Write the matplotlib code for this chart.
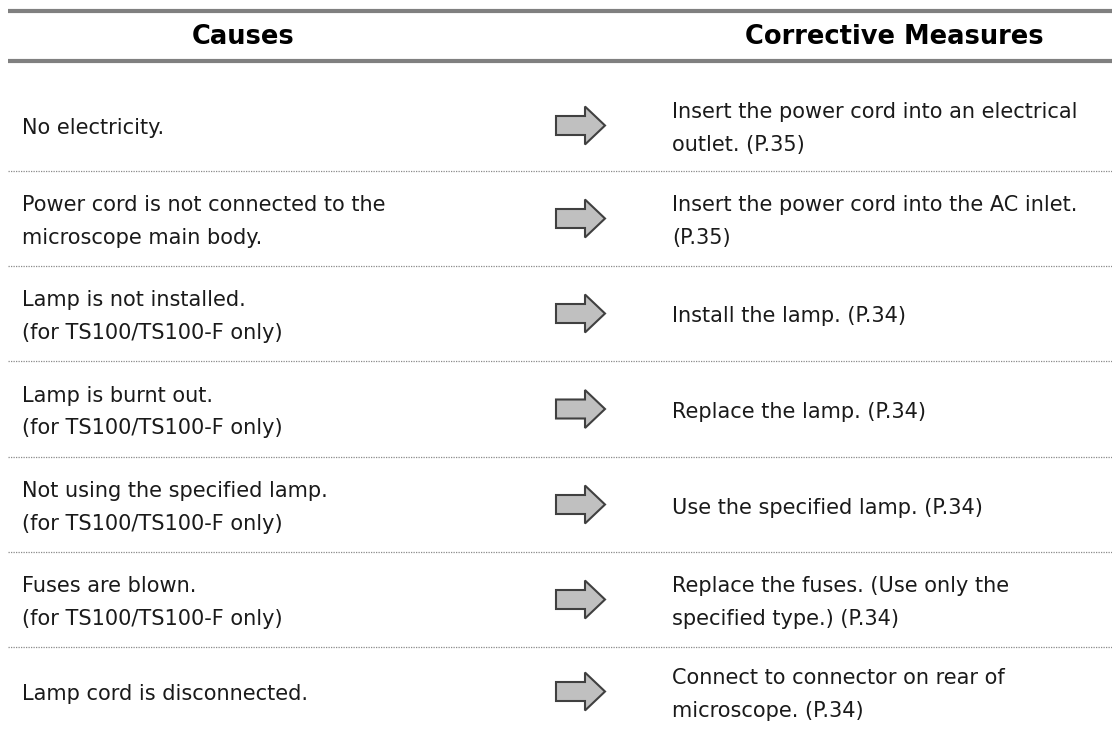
import matplotlib
matplotlib.use('Agg')
import matplotlib.pyplot as plt
from matplotlib.patches import FancyArrow

# table content
headers = ['Causes', 'Corrective Measures']
causes = [
    'No electricity.',
    'Power cord is not connected to the\nmicroscope main body.',
    'Lamp is not installed.\n(for TS100/TS100-F only)',
    'Lamp is burnt out.\n(for TS100/TS100-F only)',
    'Not using the specified lamp.\n(for TS100/TS100-F only)',
    'Fuses are blown.\n(for TS100/TS100-F only)',
    'Lamp cord is disconnected.',
]
measures = [
    'Insert the power cord into an electrical\noutlet. (P.35)',
    'Insert the power cord into the AC inlet.\n(P.35)',
    'Install the lamp. (P.34)',
    'Replace the lamp. (P.34)',
    'Use the specified lamp. (P.34)',
    'Replace the fuses. (Use only the\nspecified type.) (P.34)',
    'Connect to connector on rear of\nmicroscope. (P.34)',
]

W, H = 1112, 736
fig = plt.figure(figsize=(W / 100, H / 100), dpi=100)
ax = fig.add_axes([0, 0, 1, 1])
ax.set_xlim(0, W)
ax.set_ylim(H, 0)
ax.axis('off')

# layout (pixels)
x_left, x_right = 8, W
top_line, head_y, head_line = 11, 37, 61
row_edges = [80, 171, 266, 361, 457, 552, 647, 736]
col1_x, col2_x = 22, 672
arrow_x, arrow_len = 556, 49

thick = dict(color='#808080', lw=3.0, solid_capstyle='butt')
ax.plot([x_left, x_right], [top_line, top_line], **thick)
ax.plot([x_left, x_right], [head_line, head_line], **thick)

ax.text(243, head_y, headers[0], ha='center', va='center',
        fontsize=18.5, fontweight='bold', color='black')
ax.text(894, head_y, headers[1], ha='center', va='center',
        fontsize=18.5, fontweight='bold', color='black')

for i, (c, m) in enumerate(zip(causes, measures)):
    y0, y1 = row_edges[i], row_edges[i + 1]
    yc = (y0 + y1) / 2 + 3
    ax.text(col1_x, yc, c, ha='left', va='center', fontsize=15,
            color='#1a1a1a', linespacing=1.8)
    ax.text(col2_x, yc, m, ha='left', va='center', fontsize=15,
            color='#1a1a1a', linespacing=1.8)
    ax.add_patch(FancyArrow(arrow_x, yc - 3, arrow_len, 0, width=19,
                            head_width=38, head_length=20,
                            length_includes_head=True,
                            facecolor='#c0c0c0', edgecolor='#404040', lw=1.5))
    if i < len(causes) - 1:
        ax.plot([x_left, x_right], [y1, y1], color='#8a8a8a', lw=0.9,
                linestyle=(0, (1, 1)))

fig.savefig('out.png', dpi=100)
